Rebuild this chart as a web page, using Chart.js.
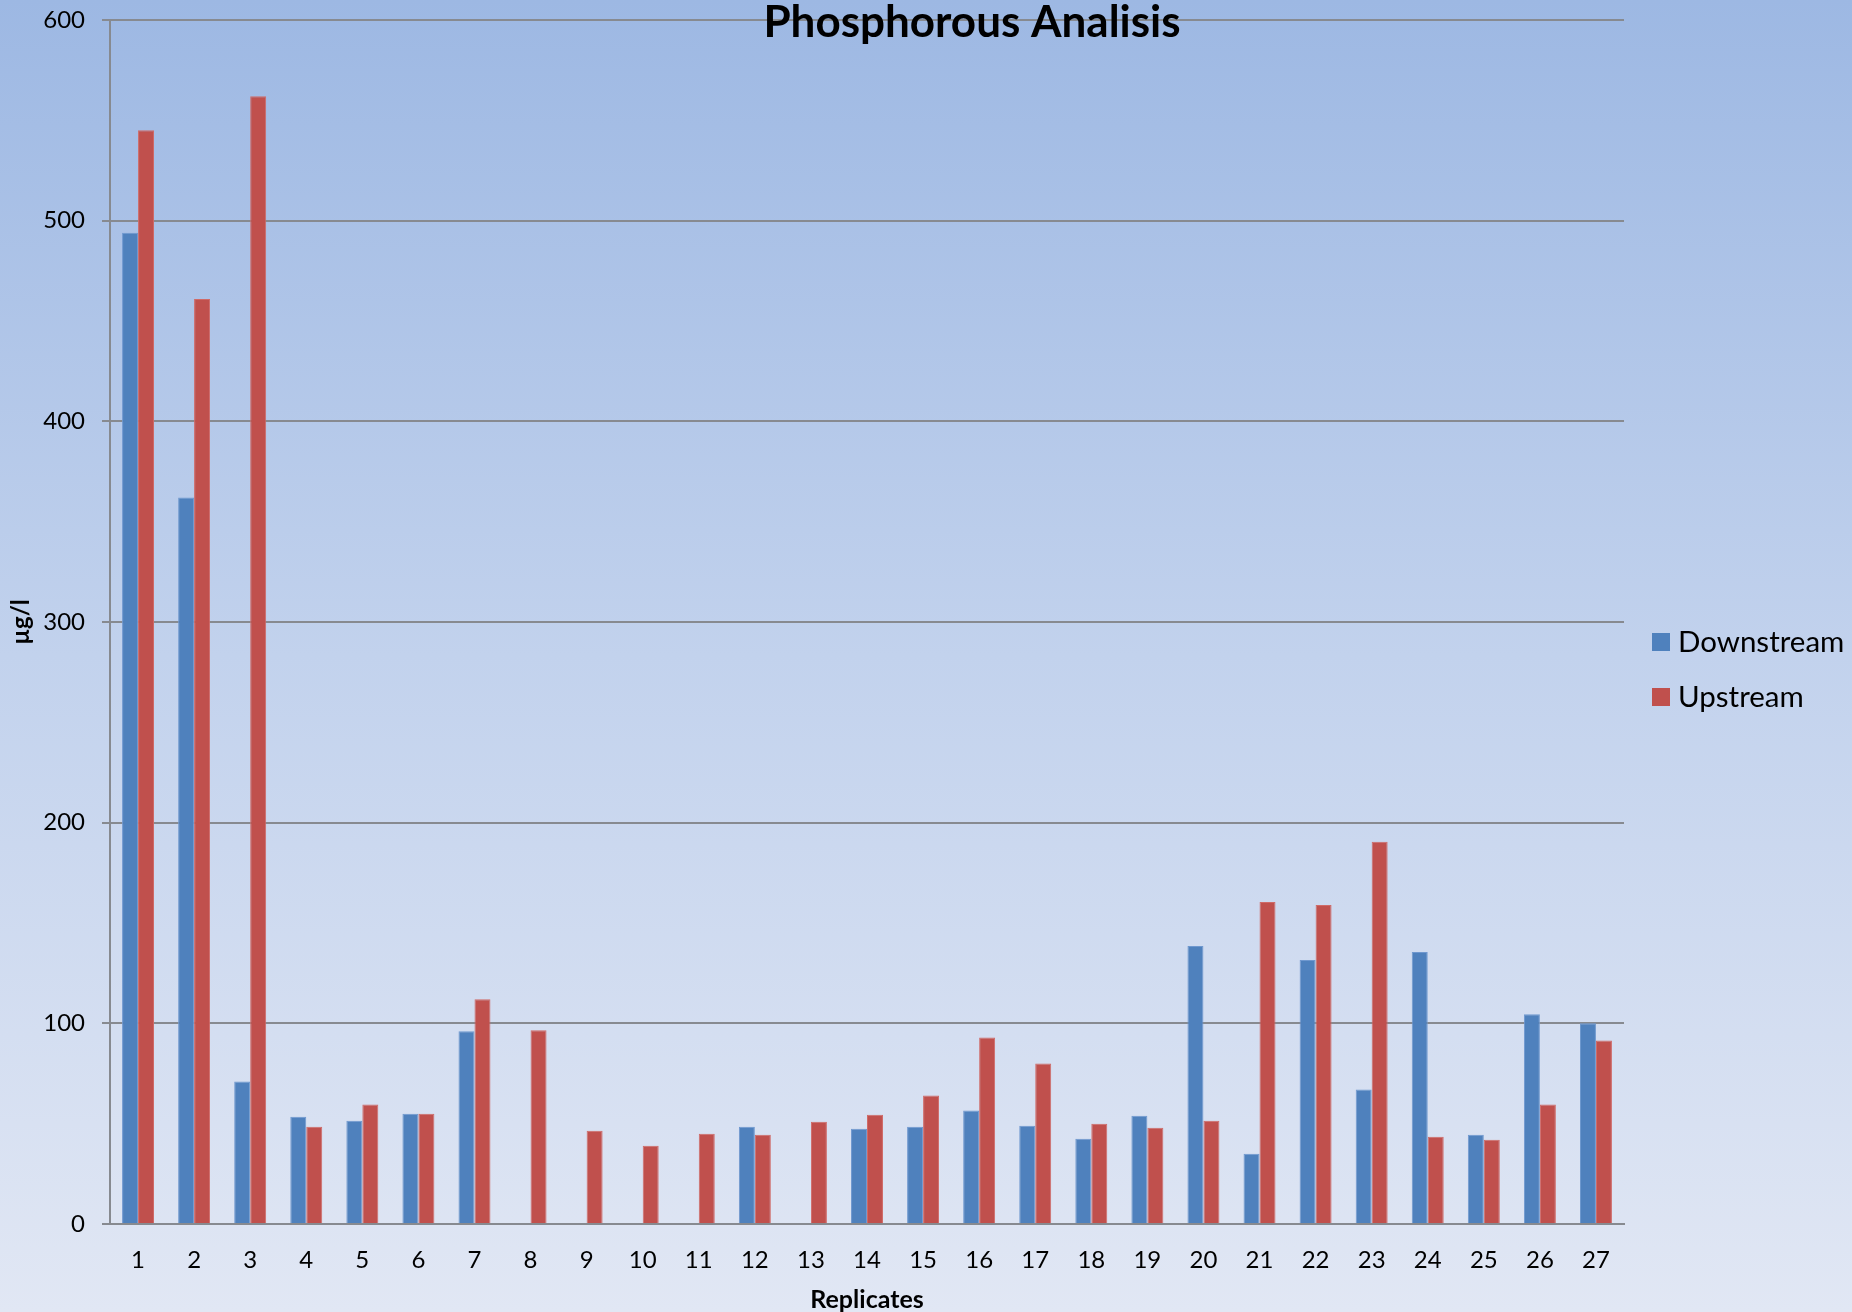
<!DOCTYPE html>
<html>
<head>
<meta charset="utf-8">
<title>Phosphorous Analisis</title>
<script src="https://cdn.jsdelivr.net/npm/chart.js@4.4.1/dist/chart.umd.min.js"></script>
<style>
  html, body { margin: 0; padding: 0; background: #dfe6f3; }
  #wrap { width: 1852px; height: 1312px; }
  canvas { display: block; }
</style>
</head>
<body>
<div id="wrap"><canvas id="chart" width="1852" height="1312"></canvas></div>
<script>
// Replicate numbers on the category axis
const replicates = ['1','2','3','4','5','6','7','8','9','10','11','12','13','14','15','16','17','18','19','20','21','22','23','24','25','26','27'];

// Phosphorous concentration (µg/l) per replicate; null = no sample
const downstream = [494, 362, 71, 53.5, 51.5, 55, 96, null, null, null, null, 48.5, null, 47.5, 48.5, 56.5, 49, 42.5, 54, 138.5, 35, 131.5, 67, 135.5, 44.5, 104.5, 100];
const upstream   = [545, 461, 562, 48.5, 59.5, 55, 112, 96.5, 46.5, 39, 45, 44.5, 51, 54.5, 64, 93, 80, 50, 48, 51.5, 160.5, 159, 190.5, 43.5, 42, 59.5, 91.5];

const seriesNames = ['Downstream', 'Upstream'];
const yTicks = [0, 100, 200, 300, 400, 500, 600];

const chartTitle = 'Phosphorous Analisis';
const xTitle = 'Replicates';
const yTitle = 'µg/l';

const FONT = 'Lato, "Open Sans", "Liberation Sans", sans-serif';
const GRID = '#878a90';

// Soft blue gradient behind the whole chart
const backdrop = {
  id: 'backdrop',
  beforeDraw(chart) {
    const { ctx, width, height } = chart;
    const g = ctx.createLinearGradient(0, 0, 0, height);
    g.addColorStop(0, '#9db8e3');
    g.addColorStop(0.5, '#c2d2ed');
    g.addColorStop(1, '#e1e7f4');
    ctx.save();
    ctx.fillStyle = g;
    ctx.fillRect(0, 0, width, height);
    ctx.restore();
  }
};

// Title laid over the top of the plot, and the legend on the right
const overlay = {
  id: 'overlay',
  afterDraw(chart) {
    const { ctx } = chart;
    ctx.save();
    ctx.fillStyle = '#000';
    ctx.font = 'bold 44px ' + FONT;
    ctx.textAlign = 'center';
    ctx.textBaseline = 'alphabetic';
    ctx.fillText(chartTitle, 972, 37);

    ctx.font = '29.5px ' + FONT;
    ctx.textAlign = 'left';
    ctx.textBaseline = 'middle';
    chart.data.datasets.forEach((ds, i) => {
      const y = 633 + i * 55;
      ctx.fillStyle = ds.backgroundColor;
      ctx.fillRect(1652, y, 18, 18);
      ctx.fillStyle = '#000';
      ctx.fillText(ds.label, 1678, y + 9);
    });
    ctx.restore();
  }
};

new Chart(document.getElementById('chart'), {
  type: 'bar',
  data: {
    labels: replicates,
    datasets: [
      { label: seriesNames[0], data: downstream, backgroundColor: '#4f81bd', borderColor: '#6f98cf', borderWidth: 1 },
      { label: seriesNames[1], data: upstream, backgroundColor: '#c0504d', borderColor: '#d06a67', borderWidth: 1 }
    ]
  },
  options: {
    responsive: false,
    animation: false,
    devicePixelRatio: 1,
    layout: { padding: { top: 20, right: 228, bottom: 0, left: 0 } },
    datasets: { bar: { categoryPercentage: 0.57, barPercentage: 1.0 } },
    plugins: {
      legend: { display: false },
      title: { display: false },
      tooltip: { enabled: false }
    },
    scales: {
      x: {
        grid: { display: false, drawTicks: false },
        border: { display: true, color: GRID, width: 2 },
        ticks: { color: '#000', font: { family: FONT, size: 24 }, padding: 22, maxRotation: 0, autoSkip: false },
        title: { display: true, text: xTitle, color: '#000', font: { family: FONT, size: 25, weight: 'bold', lineHeight: 1 }, padding: { top: 0, bottom: 0 } },
        afterFit(scale) { scale.height = 88; scale.paddingLeft = 0; scale.paddingRight = 0; }
      },
      y: {
        min: 0,
        max: 600,
        afterBuildTicks(scale) { scale.ticks = yTicks.map(v => ({ value: v })); },
        grid: { color: GRID, lineWidth: 2, tickLength: 8, drawTicks: true },
        border: { display: true, color: GRID, width: 2 },
        ticks: { color: '#000', font: { family: FONT, size: 24 }, padding: 17 },
        title: { display: true, text: yTitle, color: '#000', font: { family: FONT, size: 24, weight: 'bold' }, padding: { top: 7, bottom: 0 } },
        afterFit(scale) { scale.width = 110; scale.paddingTop = 0; scale.paddingBottom = 0; }
      }
    }
  },
  plugins: [backdrop, overlay]
});
</script>
</body>
</html>
